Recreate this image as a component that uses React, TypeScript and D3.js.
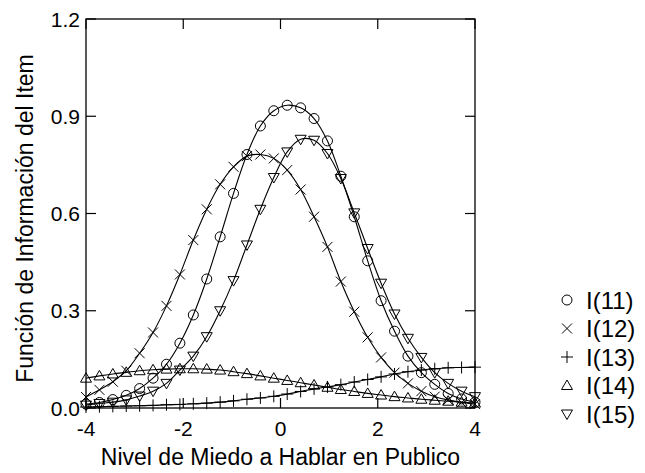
import { useRef, useEffect } from "react"
import * as d3 from "d3"

// theta grid (30 points between -4 and 4)
const theta = [
  -4, -3.724, -3.448, -3.172, -2.897, -2.621, -2.345, -2.069, -1.793, -1.517,
  -1.241, -0.966, -0.69, -0.414, -0.138, 0.138, 0.414, 0.69, 0.966, 1.241,
  1.517, 1.793, 2.069, 2.345, 2.621, 2.897, 3.172, 3.448, 3.724, 4,
]

const item11 = [
  0.012, 0.017, 0.026, 0.039, 0.06, 0.092, 0.135, 0.2, 0.287, 0.398,
  0.528, 0.662, 0.782, 0.87, 0.917, 0.934, 0.926, 0.893, 0.824, 0.715,
  0.59, 0.454, 0.331, 0.237, 0.16, 0.109, 0.073, 0.045, 0.028, 0.018,
]
const item12 = [
  0.034, 0.056, 0.081, 0.115, 0.169, 0.233, 0.315, 0.412, 0.518, 0.613,
  0.69, 0.744, 0.777, 0.782, 0.77, 0.734, 0.674, 0.59, 0.497, 0.39,
  0.297, 0.218, 0.156, 0.109, 0.076, 0.052, 0.035, 0.025, 0.017, 0.012,
]
const item13 = [
  0.003, 0.004, 0.005, 0.006, 0.007, 0.008, 0.01, 0.011, 0.013, 0.015,
  0.018, 0.022, 0.027, 0.031, 0.036, 0.043, 0.051, 0.059, 0.065, 0.072,
  0.08, 0.088, 0.096, 0.105, 0.112, 0.117, 0.121, 0.124, 0.125, 0.126,
]
const item14 = [
  0.092, 0.099, 0.105, 0.11, 0.115, 0.118, 0.12, 0.121, 0.121, 0.12,
  0.117, 0.112, 0.106, 0.099, 0.092, 0.085, 0.078, 0.071, 0.064, 0.057,
  0.051, 0.045, 0.04, 0.035, 0.031, 0.027, 0.024, 0.021, 0.018, 0.015,
]
const item15 = [
  0.009, 0.014, 0.018, 0.025, 0.037, 0.052, 0.076, 0.117, 0.16, 0.22,
  0.3, 0.393, 0.503, 0.613, 0.711, 0.79, 0.829, 0.826, 0.785, 0.708,
  0.602, 0.492, 0.385, 0.29, 0.215, 0.156, 0.109, 0.076, 0.052, 0.035,
]

const seriesNames = ["I(11)", "I(12)", "I(13)", "I(14)", "I(15)"]
const seriesSymbols = ["circle", "cross", "plus", "triUp", "triDown"]
const xTicks = [-4, -2, 0, 2, 4]
const yTicks = [0, 0.3, 0.6, 0.9, 1.2]

const FONT = "'Liberation Sans', Arial, Helvetica, sans-serif"

// draw one marker centred on (cx, cy)
function drawMarker(g, kind, cx, cy) {
  const s = 5
  if (kind === "circle") {
    g.append("circle").attr("cx", cx).attr("cy", cy).attr("r", s)
  } else if (kind === "cross") {
    g.append("path").attr("d", `M${cx - s},${cy - s}L${cx + s},${cy + s}M${cx - s},${cy + s}L${cx + s},${cy - s}`)
  } else if (kind === "plus") {
    g.append("path").attr("d", `M${cx - 6},${cy}L${cx + 6},${cy}M${cx},${cy - 6}L${cx},${cy + 6}`)
  } else if (kind === "triUp") {
    g.append("path").attr("d", `M${cx},${cy - 5.5}L${cx + 5.5},${cy + 4}L${cx - 5.5},${cy + 4}Z`)
  } else {
    g.append("path").attr("d", `M${cx},${cy + 5.5}L${cx + 5.5},${cy - 4}L${cx - 5.5},${cy - 4}Z`)
  }
}

const ItemInfoChart = () => {
  const svgRef = useRef(null)

  useEffect(() => {
    const svg = d3.select(svgRef.current)
    svg.selectAll("*").remove()

    const left = 86
    const right = 475
    const top = 19
    const bottom = 408

    const x = d3.scaleLinear().domain([-4, 4]).range([left, right])
    const y = d3.scaleLinear().domain([0, 1.2]).range([bottom, top])

    const allSeries = [item11, item12, item13, item14, item15]

    // frame
    svg
      .append("rect")
      .attr("x", left)
      .attr("y", top)
      .attr("width", right - left)
      .attr("height", bottom - top)
      .attr("fill", "none")
      .attr("stroke", "#000")
      .attr("stroke-width", 1.3)

    // inward ticks on all four sides
    const tickLen = 10
    const ticks = svg.append("g").attr("stroke", "#000").attr("stroke-width", 1.2)
    xTicks.forEach((t) => {
      ticks.append("line").attr("x1", x(t)).attr("x2", x(t)).attr("y1", bottom).attr("y2", bottom - tickLen)
      ticks.append("line").attr("x1", x(t)).attr("x2", x(t)).attr("y1", top).attr("y2", top + tickLen)
    })
    yTicks.forEach((t) => {
      ticks.append("line").attr("x1", left).attr("x2", left + tickLen).attr("y1", y(t)).attr("y2", y(t))
      ticks.append("line").attr("x1", right).attr("x2", right - tickLen).attr("y1", y(t)).attr("y2", y(t))
    })

    // tick labels
    svg
      .append("g")
      .selectAll("text")
      .data(xTicks)
      .enter()
      .append("text")
      .attr("x", (d) => x(d))
      .attr("y", bottom + 28)
      .attr("text-anchor", "middle")
      .style("font-family", FONT)
      .style("font-size", "21px")
      .text((d) => d3.format("d")(d).replace("−", "-"))

    svg
      .append("g")
      .selectAll("text")
      .data(yTicks)
      .enter()
      .append("text")
      .attr("x", left - 6)
      .attr("y", (d) => y(d) + 7.5)
      .attr("text-anchor", "end")
      .style("font-family", FONT)
      .style("font-size", "21px")
      .text((d) => d3.format(".1f")(d))

    // axis titles
    svg
      .append("text")
      .attr("x", (left + right) / 2)
      .attr("y", 465)
      .attr("text-anchor", "middle")
      .style("font-family", FONT)
      .style("font-size", "23px")
      .text("Nivel de Miedo a Hablar en Publico")

    svg
      .append("text")
      .attr("transform", `translate(33,${(top + bottom) / 2 + 5}) rotate(-90)`)
      .attr("text-anchor", "middle")
      .style("font-family", FONT)
      .style("font-size", "23px")
      .text("Función de Información del Item")

    // curves and markers
    const line = d3
      .line()
      .x((d) => x(d[0]))
      .y((d) => y(d[1]))
      .curve(d3.curveCatmullRom.alpha(0.5))

    allSeries.forEach((vals, si) => {
      const pts = theta.map((t, i) => [t, vals[i]])
      svg
        .append("path")
        .attr("d", line(pts))
        .attr("fill", "none")
        .attr("stroke", "#000")
        .attr("stroke-width", 1.1)

      const mg = svg.append("g").attr("fill", "none").attr("stroke", "#000").attr("stroke-width", 1)
      pts.forEach((p) => drawMarker(mg, seriesSymbols[si], x(p[0]), y(p[1])))
    })

    // legend
    const legendY = [300, 328.5, 357, 385.5, 414]
    seriesNames.forEach((name, i) => {
      const lg = svg.append("g").attr("fill", "none").attr("stroke", "#000").attr("stroke-width", 1)
      drawMarker(lg, seriesSymbols[i], 567, legendY[i])
      svg
        .append("text")
        .attr("x", 586)
        .attr("y", legendY[i] + 8.5)
        .style("font-family", FONT)
        .style("font-size", "24px")
        .text(name)
    })
  }, [])

  return <svg ref={svgRef} width={645} height={473} style={{ position: "absolute", left: 0, top: 0, background: "#fff" }}></svg>
}

export default function App() {
  return <ItemInfoChart />
}
